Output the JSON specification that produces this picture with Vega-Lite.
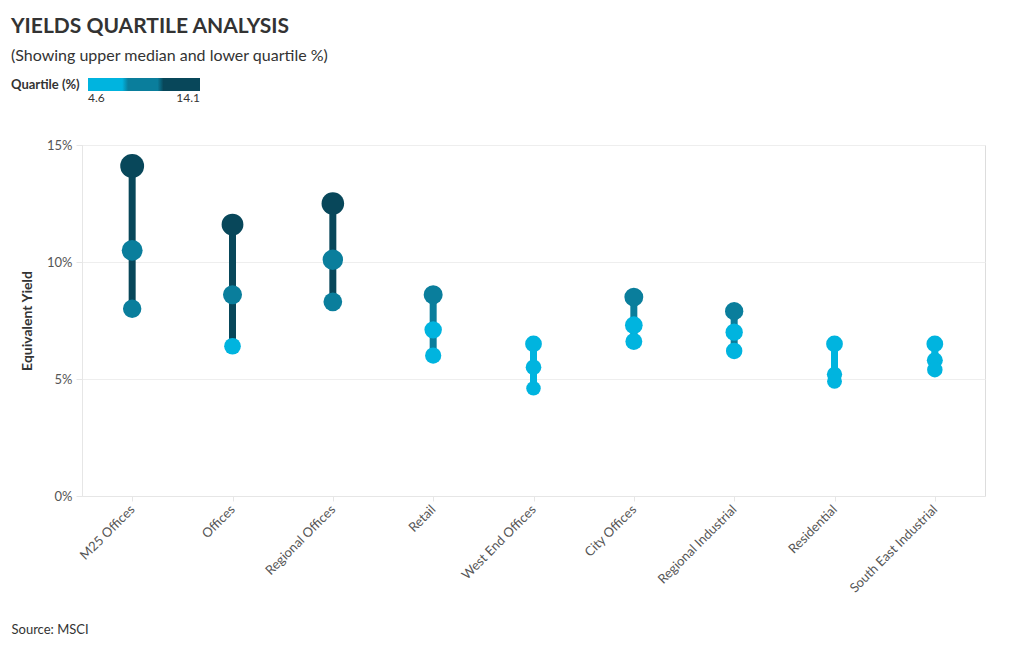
{
  "$schema": "https://vega.github.io/schema/vega-lite/v6.json",
  "width": 903,
  "height": 351,
  "padding": {"left": 11, "top": 16, "right": 35, "bottom": 10},
  "background": "white",
  "config": {
    "legend": {"gradientHorizontalMaxLength": 112, "gradientHorizontalMinLength": 112, "gradientLength": 112}
  },
  "title": {
    "text": "YIELDS QUARTILE ANALYSIS",
    "subtitle": "(Showing upper median and lower quartile %)",
    "anchor": "start",
    "frame": "bounds",
    "font": "Lato",
    "fontSize": 21,
    "fontWeight": "bold",
    "color": "#333333",
    "subtitleFont": "Lato",
    "subtitleFontSize": 16,
    "subtitleColor": "#333333",
    "subtitlePadding": 11,
    "offset": 14
  },
  "data": {
    "values": [
      {"category": "M25 Offices", "lower": 8.0, "median": 10.5, "upper": 14.1},
      {"category": "Offices", "lower": 6.4, "median": 8.6, "upper": 11.6},
      {"category": "Regional Offices", "lower": 8.3, "median": 10.1, "upper": 12.5},
      {"category": "Retail", "lower": 6.0, "median": 7.1, "upper": 8.6},
      {"category": "West End Offices", "lower": 4.6, "median": 5.5, "upper": 6.5},
      {"category": "City Offices", "lower": 6.6, "median": 7.3, "upper": 8.5},
      {"category": "Regional Industrial", "lower": 6.2, "median": 7.0, "upper": 7.9},
      {"category": "Residential", "lower": 4.9, "median": 5.2, "upper": 6.5},
      {"category": "South East Industrial", "lower": 5.4, "median": 5.8, "upper": 6.5}
    ]
  },
  "encoding": {
    "x": {
      "field": "category",
      "type": "nominal",
      "sort": null,
      "scale": {"type": "point", "padding": 0.5},
      "axis": {
        "title": "Source: MSCI",
        "titleAnchor": "start",
        "titleAlign": "left",
        "titleX": -71,
        "titleY": 133,
        "titleBaseline": "middle",
        "titleFont": "Lato",
        "titleFontSize": 13,
        "titleFontWeight": "normal",
        "titleColor": "#333333",
        "labelAngle": -45,
        "labelAlign": "right",
        "labelBaseline": "middle",
        "labelFont": "Lato",
        "labelFontSize": 13,
        "labelColor": "#555555",
        "labelPadding": 6,
        "domainColor": "#e6e6e6",
        "tickColor": "#e6e6e6",
        "tickSize": 5,
        "grid": false
      }
    }
  },
  "resolve": {"scale": {"color": "independent"}, "legend": {"color": "independent"}},
  "layer": [
    {
      "mark": {"type": "rule", "strokeWidth": 7},
      "encoding": {
        "y": {"field": "lower", "type": "quantitative"},
        "y2": {"field": "upper"},
        "color": {
          "field": "upper",
          "type": "quantitative",
          "scale": {"type": "linear", "zero": false, "domain": [4.6, 7.7667, 7.7667, 10.9333, 10.9333, 14.1], "range": ["#00b4df", "#00b4df", "#0a7e9c", "#0a7e9c", "#08475a", "#08475a"]},
          "legend": null
        }
      }
    },
    {
      "transform": [{"fold": ["upper", "median", "lower"], "as": ["stat", "value"]}],
      "mark": {"type": "circle", "opacity": 1},
      "encoding": {
        "y": {
          "field": "value",
          "type": "quantitative",
          "scale": {"domain": [0, 15], "nice": false},
          "axis": {
            "values": [0, 5, 10, 15],
            "labelExpr": "datum.value + '%'",
            "title": "Equivalent Yield",
            "titleFont": "Lato",
            "titleFontSize": 14,
            "titleFontWeight": "bold",
            "titleColor": "#333333",
            "titlePadding": 12,
            "labelFont": "Lato",
            "labelFontSize": 13,
            "labelColor": "#555555",
            "labelPadding": 4,
            "domainColor": "#e6e6e6",
            "tickColor": "#e6e6e6",
            "tickSize": 6,
            "gridColor": "#eeeeee"
          }
        },
        "color": {
          "field": "value",
          "type": "quantitative",
          "scale": {"type": "linear", "zero": false, "domain": [4.6, 7.7667, 7.7667, 10.9333, 10.9333, 14.1], "range": ["#00b4df", "#00b4df", "#0a7e9c", "#0a7e9c", "#08475a", "#08475a"]},
          "legend": {
            "title": "Quartile (%)",
            "type": "gradient",
            "orient": "none",
            "legendX": -71,
            "legendY": -67,
            "direction": "horizontal",
            "titleOrient": "left",
            "titleFont": "Lato",
            "titleFontSize": 13,
            "titleFontWeight": "bold",
            "titleColor": "#333333",
            "titlePadding": 8,
            "titleBaseline": "middle",
            "gradientLength": 112,
            "gradientThickness": 13,
            "gradientStrokeWidth": 0,
            "values": [4.6, 14.1],
            "format": ".1f",
            "labelFont": "Lato",
            "labelFontSize": 12,
            "labelColor": "#333333",
            "labelOverlap": false,
            "encode": {
              "labels": {
                "update": {
                  "align": {"signal": "datum.value < 9 ? 'right' : 'left'"},
                  "dx": {"signal": "datum.value < 9 ? -4 : 4"},
                  "baseline": {"value": "middle"},
                  "y": {"value": 6.5}
                }
              }
            }
          }
        },
        "size": {
          "field": "value",
          "type": "quantitative",
          "scale": {"domain": [4.6, 14.1], "range": [210, 570], "zero": false},
          "legend": null
        }
      }
    }
  ]
}
